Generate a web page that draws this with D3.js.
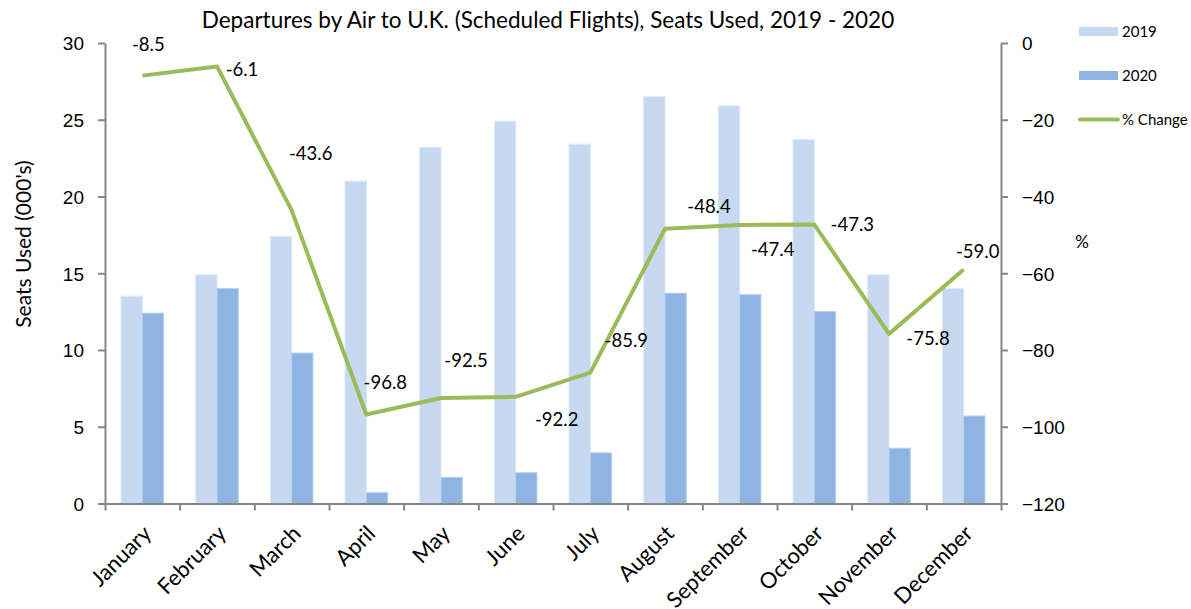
<!DOCTYPE html>
<html>
<head>
<meta charset="utf-8">
<script src="https://cdn.jsdelivr.net/npm/d3@7"></script>
<style>
  body { margin: 0; background: #fff; }
  svg { font-family: Lato, "Open Sans", sans-serif; }
  .axis path, .axis line { stroke: #868686; stroke-width: 2; }
  .axis text { fill: #000; font-size: 19px; }
</style>
</head>
<body>
<svg id="chart" width="1191" height="609"></svg>
<script>
// data
const months = ["January", "February", "March", "April", "May", "June",
  "July", "August", "September", "October", "November", "December"];
const seats2019 = [13.5, 14.9, 17.4, 21.0, 23.2, 24.9, 23.4, 26.5, 25.9, 23.7, 14.9, 14.0];
const seats2020 = [12.4, 14.0, 9.8, 0.7, 1.7, 2.0, 3.3, 13.7, 13.6, 12.5, 3.6, 5.7];
const pctChange = [-8.5, -6.1, -43.6, -96.8, -92.5, -92.2, -85.9, -48.4, -47.4, -47.3, -75.8, -59.0];
const seriesNames = ["2019", "2020", "% Change"];
const leftTicks = [0, 5, 10, 15, 20, 25, 30];
const rightTicks = [0, -20, -40, -60, -80, -100, -120];

// where each data label sits relative to its point (dx, dy to baseline)
const labelOffsets = [[6, -25], [25, 10], [19, -50], [19, -25], [25, -31], [41, 29],
  [36, -26], [44, -16], [33, 31], [38, 6], [39, 11], [14, -11]];

const colors = { c2019: "#c6d9f1", c2020: "#8eb4e3", line: "#9bbb59" };

const margin = { left: 105, right: 1001, top: 43, bottom: 503.5 };
const svg = d3.select("#chart");

// scales
const x = d3.scaleBand().domain(months).range([margin.left, margin.right]).padding(0);
const xSeries = d3.scaleBand()
  .domain(["2019", "2020"])
  .range([x.bandwidth() * 0.215, x.bandwidth() * 0.785]);
const yLeft = d3.scaleLinear().domain([0, 30]).range([margin.bottom, margin.top]);
const yRight = d3.scaleLinear().domain([-120, 0]).range([margin.bottom, margin.top]);
const xTicks = d3.scaleLinear().domain([0, 12]).range([margin.left, margin.right]);

// bars
const rows = months.map((m, i) => ({ month: m, v2019: seats2019[i], v2020: seats2020[i] }));
const groups = svg.append("g").attr("class", "bars")
  .selectAll("g").data(rows).enter().append("g")
  .attr("transform", d => "translate(" + x(d.month) + ",0)");

groups.append("rect")
  .attr("x", xSeries("2019"))
  .attr("width", xSeries.bandwidth())
  .attr("y", d => yLeft(d.v2019))
  .attr("height", d => yLeft(0) - yLeft(d.v2019))
  .attr("fill", colors.c2019)
  .attr("stroke", "#dbe7f6").attr("stroke-width", 1);

groups.append("rect")
  .attr("x", xSeries("2020"))
  .attr("width", xSeries.bandwidth())
  .attr("y", d => yLeft(d.v2020))
  .attr("height", d => yLeft(0) - yLeft(d.v2020))
  .attr("fill", colors.c2020)
  .attr("stroke", "#b4cdec").attr("stroke-width", 1);

// left axis
svg.append("g").attr("class", "axis")
  .attr("transform", "translate(" + margin.left + ",0)")
  .call(d3.axisLeft(yLeft).tickValues(leftTicks).tickSize(7).tickSizeOuter(0).tickPadding(14))
  .selectAll("text").attr("dy", "0.36em");

// right axis
svg.append("g").attr("class", "axis")
  .attr("transform", "translate(" + margin.right + ",0)")
  .call(d3.axisRight(yRight).tickValues(rightTicks).tickSize(7).tickSizeOuter(0).tickPadding(14))
  .selectAll("text").attr("dy", "0.36em");

// bottom axis, ticks between categories
svg.append("g").attr("class", "axis")
  .attr("transform", "translate(0," + margin.bottom + ")")
  .call(d3.axisBottom(xTicks).tickValues(d3.range(13)).tickSize(7).tickSizeOuter(0).tickFormat(""));

// month labels
svg.append("g").selectAll("text").data(months).enter().append("text")
  .attr("transform", d => "translate(" + (x(d) + x.bandwidth() / 2 + 5) + "," + (margin.bottom + 26) + ") rotate(-45)")
  .attr("text-anchor", "end")
  .attr("font-size", 22)
  .attr("dy", "0.35em")
  .text(d => d);

// % change line
const pts = months.map((m, i) => [x(m) + x.bandwidth() / 2, yRight(pctChange[i])]);
svg.append("path")
  .attr("d", d3.line()(pts))
  .attr("fill", "none")
  .attr("stroke", colors.line)
  .attr("stroke-width", 4)
  .attr("stroke-linejoin", "round");

// data labels
svg.append("g").selectAll("text").data(pctChange).enter().append("text")
  .attr("x", (d, i) => pts[i][0] + labelOffsets[i][0])
  .attr("y", (d, i) => pts[i][1] + labelOffsets[i][1])
  .attr("text-anchor", "middle")
  .attr("font-size", 18.5)
  .text(d => d.toFixed(1));

// title
svg.append("text")
  .attr("x", 548).attr("y", 28)
  .attr("text-anchor", "middle")
  .attr("font-size", 22.5)
  .text("Departures by Air to U.K. (Scheduled Flights), Seats Used, 2019 - 2020");

// axis titles
svg.append("text")
  .attr("transform", "translate(31,244) rotate(-90)")
  .attr("text-anchor", "middle")
  .attr("font-size", 21)
  .text("Seats Used (000's)");

svg.append("text")
  .attr("x", 1082).attr("y", 248)
  .attr("text-anchor", "middle")
  .attr("font-size", 17)
  .text("%");

// legend
const legend = svg.append("g").attr("transform", "translate(1079,0)");
legend.append("rect").attr("x", 0).attr("y", 27).attr("width", 39).attr("height", 9).attr("fill", colors.c2019);
legend.append("rect").attr("x", 0).attr("y", 71).attr("width", 39).attr("height", 9).attr("fill", colors.c2020);
legend.append("line").attr("x1", 1).attr("x2", 39).attr("y1", 119.5).attr("y2", 119.5)
  .attr("stroke", colors.line).attr("stroke-width", 4).attr("stroke-linecap", "round");
legend.selectAll("text.leg").data(seriesNames).enter().append("text")
  .attr("class", "leg")
  .attr("x", 43)
  .attr("y", (d, i) => [37, 81, 125][i])
  .attr("font-size", 15)
  .text(d => d);
</script>
</body>
</html>
